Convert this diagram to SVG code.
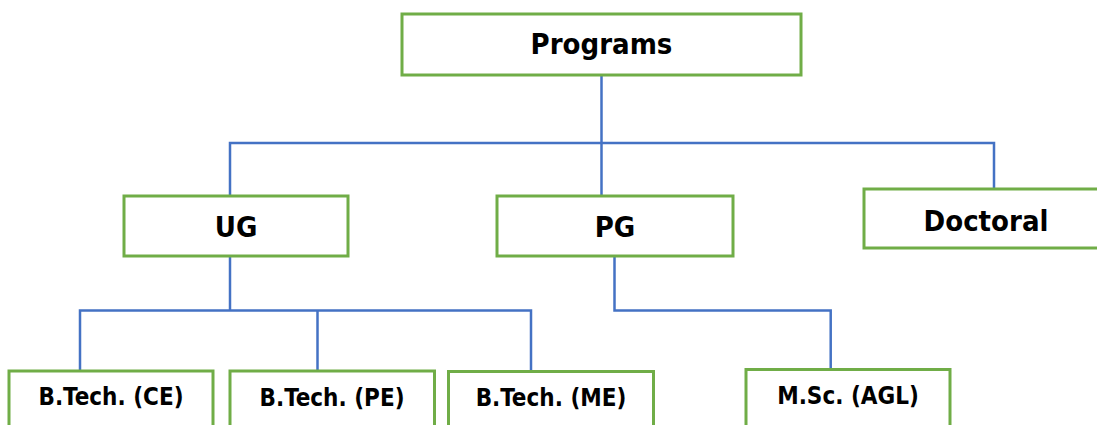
<svg xmlns="http://www.w3.org/2000/svg" width="1097" height="425" viewBox="0 0 1097 425">
<style>
.box{fill:#fff;stroke:#70AD47;stroke-width:3}
.lnk{fill:none;stroke:#4472C4;stroke-width:2.5}
.t{font-family:"DejaVu Sans Condensed","DejaVu Sans",sans-serif;font-stretch:condensed;font-weight:bold;fill:#000;text-anchor:middle}
.big{font-size:29px}
.sm{font-size:24px}
</style>
<rect width="1097" height="425" fill="#fff"/>
<g id="connectors">
<path class="lnk" d="M601.5,75 V196"/>
<path class="lnk" d="M230,196 V143 H994 V189"/>
<path class="lnk" d="M230,256 V310.5"/>
<path class="lnk" d="M80,371 V310.5 H531 V371"/>
<path class="lnk" d="M317.5,310.5 V371"/>
<path class="lnk" d="M614.5,256 V310.5 H830.7 V369.5"/>
</g>
<g id="programs"><rect class="box" x="402" y="14" width="399" height="61"/><text class="t big" x="601.5" y="54">Programs</text></g>
<g id="ug"><rect class="box" x="124" y="196" width="224" height="60"/><text class="t big" x="236" y="236.5">UG</text></g>
<g id="pg"><rect class="box" x="497" y="196" width="236" height="60"/><text class="t big" x="615" y="237">PG</text></g>
<g id="doctoral"><rect class="box" x="864" y="189" width="250" height="59"/><text class="t big" x="986" y="230.5">Doctoral</text></g>
<g id="btech-ce"><rect class="box" x="9" y="371" width="204" height="70"/><text class="t sm" x="111" y="405">B.Tech. (CE)</text></g>
<g id="btech-pe"><rect class="box" x="230" y="371" width="204.5" height="70"/><text class="t sm" x="332" y="405.5">B.Tech. (PE)</text></g>
<g id="btech-me"><rect class="box" x="448.5" y="371.5" width="205" height="70"/><text class="t sm" x="551" y="406">B.Tech. (ME)</text></g>
<g id="msc-agl"><rect class="box" x="746" y="369.5" width="204" height="70"/><text class="t sm" x="848" y="403.5">M.Sc. (AGL)</text></g>
</svg>
